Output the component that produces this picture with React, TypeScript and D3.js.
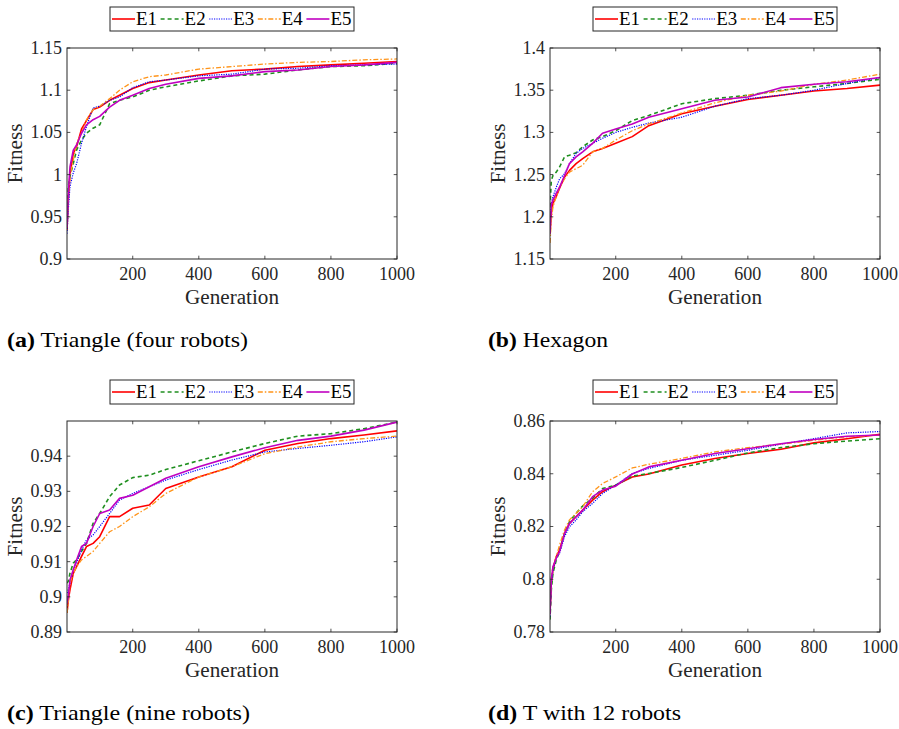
import React from "react";
import * as d3 from "d3";

const generations = [1, 5, 10, 20, 30, 45, 60, 80, 100, 130, 160, 200, 250, 300, 400, 500, 600, 700, 800, 900, 1000];
const seriesNames = ["E1", "E2", "E3", "E4", "E5"];
const xTicks = [200, 400, 600, 800, 1000];

// (a) Triangle (four robots)
const triFourE1 = [0.934, 0.97, 1.0, 1.025, 1.033, 1.054, 1.064, 1.077, 1.08, 1.088, 1.094, 1.102, 1.109, 1.112, 1.118, 1.123, 1.125, 1.128, 1.13, 1.132, 1.134];
const triFourE2 = [0.938, 0.986, 0.998, 1.013, 1.029, 1.041, 1.049, 1.055, 1.059, 1.084, 1.088, 1.092, 1.1, 1.104, 1.111, 1.117, 1.119, 1.124, 1.128, 1.129, 1.132];
const triFourE3 = [0.93, 0.958, 0.986, 1.002, 1.013, 1.037, 1.057, 1.079, 1.081, 1.088, 1.092, 1.103, 1.11, 1.112, 1.117, 1.119, 1.125, 1.126, 1.129, 1.13, 1.131];
const triFourE4 = [0.942, 0.974, 0.998, 1.017, 1.037, 1.049, 1.065, 1.077, 1.081, 1.09, 1.1, 1.11, 1.116, 1.118, 1.125, 1.128, 1.131, 1.133, 1.134, 1.136, 1.137];
const triFourE5 = [0.938, 0.978, 1.009, 1.029, 1.035, 1.049, 1.059, 1.065, 1.069, 1.08, 1.088, 1.094, 1.102, 1.107, 1.114, 1.117, 1.122, 1.124, 1.128, 1.13, 1.133];
const triFourTicks = [0.9, 0.95, 1, 1.05, 1.1, 1.15];
const triFourDomain = [0.9, 1.15];

// (b) Hexagon
const hexE1 = [1.18, 1.204, 1.216, 1.224, 1.234, 1.247, 1.255, 1.263, 1.269, 1.277, 1.281, 1.287, 1.295, 1.308, 1.322, 1.331, 1.339, 1.344, 1.349, 1.352, 1.356];
const hexE2 = [1.212, 1.243, 1.249, 1.253, 1.259, 1.271, 1.273, 1.276, 1.283, 1.291, 1.295, 1.302, 1.314, 1.32, 1.334, 1.34, 1.344, 1.35, 1.354, 1.358, 1.363];
const hexE3 = [1.188, 1.216, 1.224, 1.235, 1.245, 1.251, 1.263, 1.275, 1.281, 1.287, 1.293, 1.3, 1.306, 1.311, 1.318, 1.331, 1.34, 1.344, 1.35, 1.358, 1.365];
const hexE4 = [1.169, 1.196, 1.212, 1.224, 1.235, 1.245, 1.253, 1.257, 1.261, 1.277, 1.281, 1.291, 1.302, 1.31, 1.323, 1.335, 1.344, 1.349, 1.357, 1.362, 1.369];
const hexE5 = [1.18, 1.214, 1.22, 1.228, 1.235, 1.249, 1.263, 1.271, 1.277, 1.287, 1.299, 1.304, 1.31, 1.318, 1.328, 1.338, 1.342, 1.353, 1.357, 1.36, 1.365];
const hexTicks = [1.15, 1.2, 1.25, 1.3, 1.35, 1.4];
const hexDomain = [1.15, 1.4];

// (c) Triangle (nine robots)
const triNineE1 = [0.8954, 0.8992, 0.902, 0.9067, 0.9086, 0.9115, 0.9143, 0.9152, 0.9171, 0.9228, 0.9228, 0.9252, 0.9261, 0.9308, 0.9341, 0.937, 0.9417, 0.9436, 0.945, 0.946, 0.9472];
const triNineE2 = [0.9039, 0.9044, 0.9067, 0.9096, 0.9105, 0.9129, 0.9152, 0.9209, 0.9237, 0.9285, 0.9318, 0.9339, 0.9346, 0.9362, 0.9387, 0.9412, 0.9436, 0.9457, 0.9464, 0.9478, 0.9497];
const triNineE3 = [0.9011, 0.902, 0.9039, 0.9077, 0.9096, 0.9133, 0.9162, 0.9176, 0.92, 0.9237, 0.9275, 0.9294, 0.9313, 0.9332, 0.9362, 0.9389, 0.9412, 0.9422, 0.9431, 0.9441, 0.9455];
const triNineE4 = [0.8954, 0.8982, 0.9039, 0.9067, 0.9086, 0.9105, 0.9115, 0.9129, 0.9152, 0.9185, 0.92, 0.9228, 0.9256, 0.9294, 0.9341, 0.937, 0.9407, 0.9426, 0.9441, 0.945, 0.9457];
const triNineE5 = [0.8982, 0.9001, 0.9048, 0.9077, 0.9105, 0.9143, 0.9152, 0.92, 0.9237, 0.9247, 0.928, 0.9289, 0.9313, 0.9337, 0.937, 0.9398, 0.9424, 0.9445, 0.9457, 0.9474, 0.9497];
const triNineTicks = [0.89, 0.9, 0.91, 0.92, 0.93, 0.94];
const triNineDomain = [0.89, 0.95];

// (d) T with 12 robots
const tE1 = [0.7872, 0.7985, 0.8036, 0.8086, 0.8111, 0.8174, 0.8212, 0.8237, 0.8262, 0.83, 0.8332, 0.8357, 0.8388, 0.8399, 0.8433, 0.8458, 0.8477, 0.8493, 0.8517, 0.8533, 0.855];
const tE2 = [0.7847, 0.796, 0.8023, 0.8073, 0.8105, 0.8174, 0.8218, 0.825, 0.8278, 0.8307, 0.8344, 0.8357, 0.8391, 0.8401, 0.8424, 0.8451, 0.8479, 0.8499, 0.8514, 0.8524, 0.8533];
const tE3 = [0.7859, 0.7985, 0.8036, 0.808, 0.8099, 0.8162, 0.8199, 0.8225, 0.8256, 0.8288, 0.8325, 0.8357, 0.8401, 0.842, 0.8451, 0.847, 0.8489, 0.8512, 0.8533, 0.8555, 0.856];
const tE4 = [0.7872, 0.801, 0.8048, 0.8086, 0.813, 0.8187, 0.8225, 0.825, 0.8275, 0.8332, 0.8363, 0.8388, 0.8422, 0.8436, 0.8458, 0.8483, 0.8499, 0.8512, 0.8527, 0.854, 0.8546];
const tE5 = [0.7866, 0.7998, 0.8048, 0.808, 0.8105, 0.8174, 0.8212, 0.8237, 0.8262, 0.8313, 0.8338, 0.8353, 0.8399, 0.8426, 0.8451, 0.8477, 0.8495, 0.8514, 0.853, 0.8542, 0.8547];
const tTicks = [0.78, 0.8, 0.82, 0.84, 0.86];
const tDomain = [0.78, 0.86];

const captionLetters = ["a", "b", "c", "d"];
const captionTexts = ["Triangle (four robots)", "Hexagon", "Triangle (nine robots)", "T with 12 robots"];

const panels = [
  { series: [triFourE1, triFourE2, triFourE3, triFourE4, triFourE5], ticks: triFourTicks, domain: triFourDomain },
  { series: [hexE1, hexE2, hexE3, hexE4, hexE5], ticks: hexTicks, domain: hexDomain },
  { series: [triNineE1, triNineE2, triNineE3, triNineE4, triNineE5], ticks: triNineTicks, domain: triNineDomain },
  { series: [tE1, tE2, tE3, tE4, tE5], ticks: tTicks, domain: tDomain },
];

const styles = [
  { color: "#ff0000", dash: "none", width: 1.6 },
  { color: "#1f8f1f", dash: "4,3", width: 1.6 },
  { color: "#0000ff", dash: "1.2,1.2", width: 1.2 },
  { color: "#ff9419", dash: "5,2,1.5,2", width: 1.3 },
  { color: "#c000c0", dash: "none", width: 1.6 },
];

const FONT = "'Liberation Serif', 'Times New Roman', serif";
const AX = "#262626";

const colLeft = [67, 550];
const rowTop = [48, 421];
const PW = 330;
const PH = 211;
const captionX = [7, 488];
const captionWidths = [241, 120, 243, 193];

function Panel({ idx }: { idx: number }) {
  const p = panels[idx];
  const left = colLeft[idx % 2];
  const top = rowTop[Math.floor(idx / 2)];
  const x = d3.scaleLinear().domain([1, 1000]).range([left, left + PW]);
  const y = d3.scaleLinear().domain(p.domain).range([top + PH, top]);
  const line = d3
    .line<[number, number]>()
    .x((d) => x(d[0]))
    .y((d) => y(d[1]));
  const tl = 3.3;
  const clipId = `clip${idx}`;
  const legX = left + 43;
  const legY = top - 41;
  const itemW = 48.6;
  return (
    <g>
      <defs>
        <clipPath id={clipId}>
          <rect x={left} y={top} width={PW} height={PH} />
        </clipPath>
      </defs>
      <rect x={left} y={top} width={PW} height={PH} fill="#fff" />
      <g clipPath={`url(#${clipId})`}>
        {p.series.map((s, i) => (
          <path
            key={i}
            d={line(generations.map((g, k) => [g, s[k]] as [number, number])) || ""}
            fill="none"
            stroke={styles[i].color}
            strokeWidth={styles[i].width}
            strokeDasharray={styles[i].dash}
            strokeLinejoin="round"
          />
        ))}
      </g>
      {xTicks.map((t) => (
        <g key={`xt${t}`}>
          <line x1={x(t)} x2={x(t)} y1={top + PH} y2={top + PH - tl} stroke={AX} strokeWidth={0.8} />
          <line x1={x(t)} x2={x(t)} y1={top} y2={top + tl} stroke={AX} strokeWidth={0.8} />
          <text x={x(t)} y={top + PH + 21} textAnchor="middle" fontFamily={FONT} fontSize={18} fill={AX}>
            {t}
          </text>
        </g>
      ))}
      {p.ticks.map((t) => (
        <g key={`yt${t}`}>
          <line x1={left} x2={left + tl} y1={y(t)} y2={y(t)} stroke={AX} strokeWidth={0.8} />
          <line x1={left + PW} x2={left + PW - tl} y1={y(t)} y2={y(t)} stroke={AX} strokeWidth={0.8} />
          <text x={left - 5} y={y(t)} dy="0.33em" textAnchor="end" fontFamily={FONT} fontSize={18} fill={AX}>
            {String(t)}
          </text>
        </g>
      ))}
      <rect x={left} y={top} width={PW} height={PH} fill="none" stroke={AX} strokeWidth={1} />
      <text x={left + PW / 2} y={top + PH + 45} textAnchor="middle" fontFamily={FONT} fontSize={20} fill={AX} textLength={94} lengthAdjust="spacingAndGlyphs">
        Generation
      </text>
      <text
        transform={`translate(${left - 45},${top + PH / 2}) rotate(-90)`}
        textAnchor="middle"
        fontFamily={FONT}
        fontSize={20}
        fill={AX}
        textLength={60}
        lengthAdjust="spacingAndGlyphs"
      >
        Fitness
      </text>
      <rect x={legX} y={legY} width={244} height={24} fill="#fff" stroke={AX} strokeWidth={1} />
      {seriesNames.map((n, i) => (
        <g key={n}>
          <line
            x1={legX + 2 + i * itemW}
            x2={legX + 25 + i * itemW}
            y1={legY + 12}
            y2={legY + 12}
            stroke={styles[i].color}
            strokeWidth={styles[i].width}
            strokeDasharray={styles[i].dash}
          />
          <text x={legX + 26 + i * itemW} y={legY + 18} fontFamily={FONT} fontSize={18} fill="#000" textLength={21} lengthAdjust="spacingAndGlyphs">
            {n}
          </text>
        </g>
      ))}
      <text
        x={captionX[idx % 2]}
        y={top + PH + 88}
        fontFamily={FONT}
        fontSize={22}
        fill="#000"
        textLength={captionWidths[idx]}
        lengthAdjust="spacingAndGlyphs"
      >
        <tspan fontWeight="bold">({captionLetters[idx]})</tspan>
        <tspan> {captionTexts[idx]}</tspan>
      </text>
    </g>
  );
}

export default function App() {
  return (
    <svg width={899} height={729} style={{ position: "absolute", left: 0, top: 0, background: "#fff" }}>
      <rect width={899} height={729} fill="#fff" />
      {panels.map((_, i) => (
        <Panel key={i} idx={i} />
      ))}
    </svg>
  );
}
